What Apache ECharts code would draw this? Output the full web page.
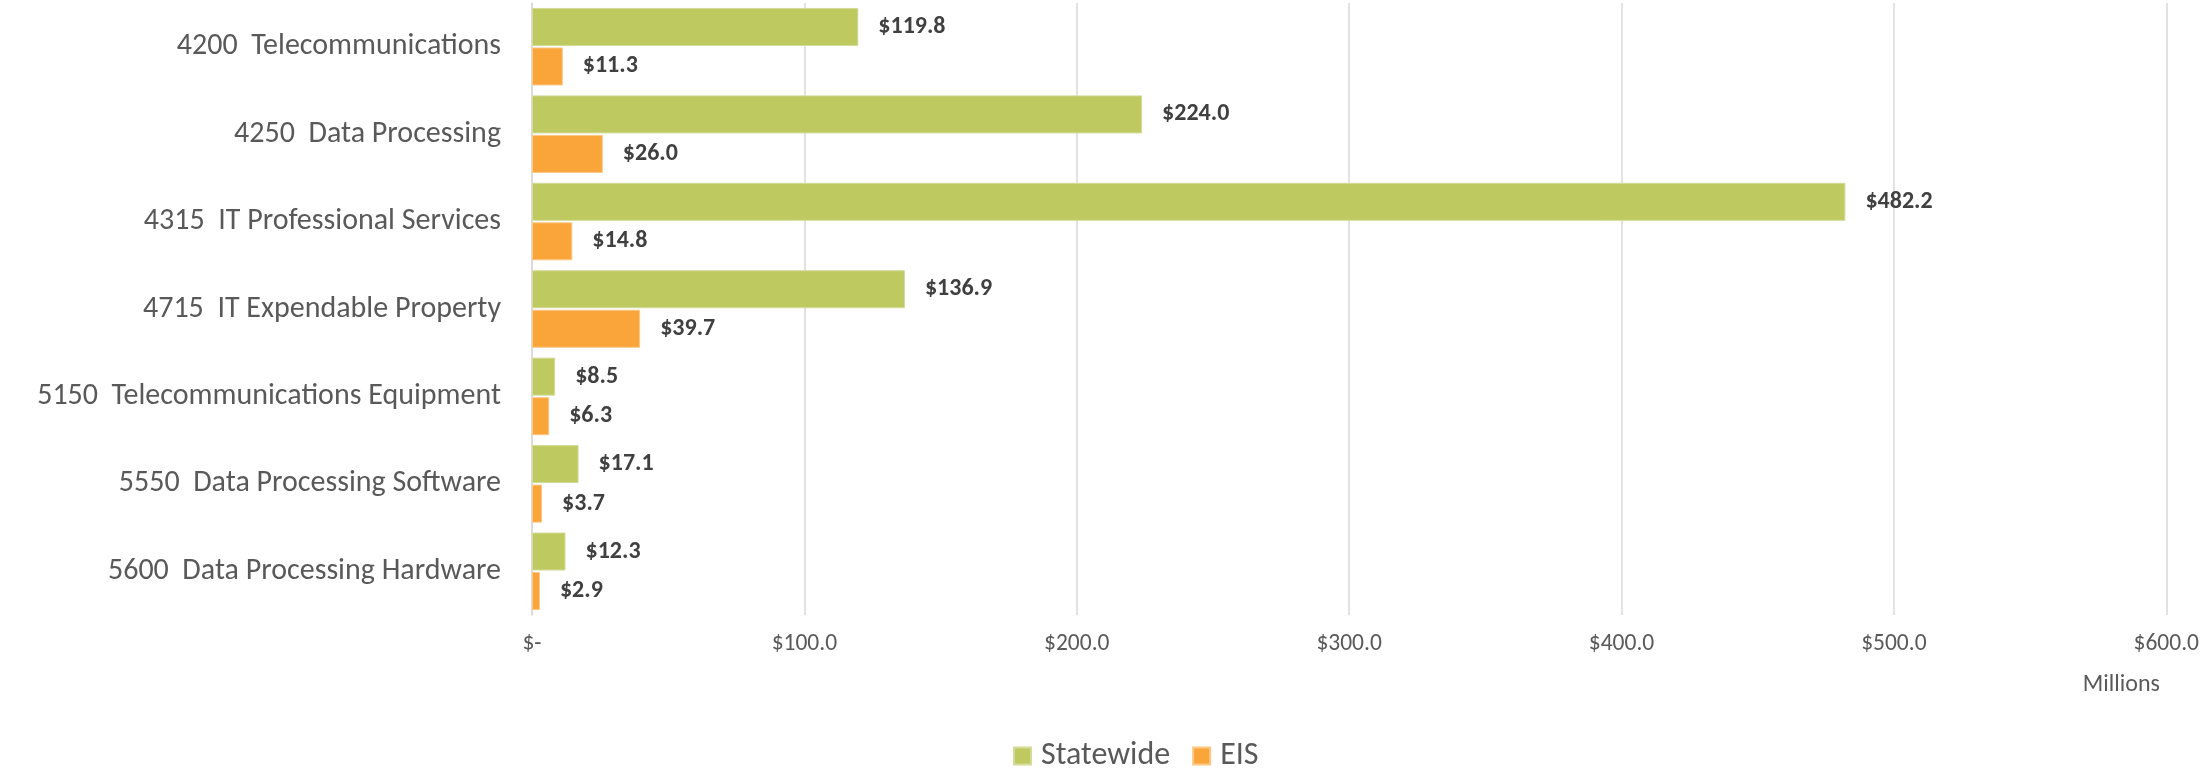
<!DOCTYPE html>
<html>
<head>
<meta charset="utf-8">
<script src="https://cdn.jsdelivr.net/npm/echarts@6/dist/echarts.min.js"></script>
<style>
  html, body { margin: 0; padding: 0; background: #ffffff; }
  #chart { width: 2202px; height: 769px; }
</style>
</head>
<body>
<div id="chart"></div>
<script>
// IT spending by object code, in millions of dollars
const categories = [
  '4200  Telecommunications',
  '4250  Data Processing',
  '4315  IT Professional Services',
  '4715  IT Expendable Property',
  '5150  Telecommunications Equipment',
  '5550  Data Processing Software',
  '5600  Data Processing Hardware'
];
const statewide = [119.8, 224.0, 482.2, 136.9, 8.5, 17.1, 12.3];
const eis = [11.3, 26.0, 14.8, 39.7, 6.3, 3.7, 2.9];
const axisTicks = [0, 100, 200, 300, 400, 500, 600];

const FONT = 'Carlito, Lato, sans-serif';
const money = v => (v === 0 ? '$-' : '$' + v.toFixed(1));

const valueLabel = {
  show: true,
  position: 'right',
  distance: 20,
  formatter: p => money(p.value),
  color: '#404040',
  fontFamily: FONT,
  fontWeight: 'bold',
  fontSize: 24
};

const chart = echarts.init(document.getElementById('chart'), null, { renderer: 'canvas' });
chart.setOption({
  animation: false,
  backgroundColor: '#ffffff',
  grid: { left: 532, right: 35, top: 3, height: 612, containLabel: false },
  title: {
    text: 'Millions',
    right: 42,
    top: 673,
    padding: 0,
    textStyle: { fontFamily: FONT, fontWeight: 'normal', fontSize: 24, color: '#595959' }
  },
  legend: {
    data: ['Statewide', 'EIS'],
    left: 1013,
    top: 740,
    padding: 0,
    itemWidth: 17,
    itemHeight: 17,
    itemGap: 22,
    icon: 'rect',
    textStyle: { fontFamily: FONT, fontSize: 32, color: '#595959', padding: [0, 0, 0, 5] }
  },
  xAxis: {
    type: 'value',
    min: axisTicks[0],
    max: axisTicks[axisTicks.length - 1],
    interval: axisTicks[1] - axisTicks[0],
    axisLine: { show: false },
    axisTick: { show: false },
    splitLine: { show: true, lineStyle: { color: '#d9d9d9', width: 1.5 } },
    axisLabel: {
      margin: 17,
      formatter: v => money(v),
      fontFamily: FONT,
      fontSize: 23.5,
      color: '#595959'
    }
  },
  yAxis: {
    type: 'category',
    data: categories,
    inverse: true,
    axisLine: { show: true, lineStyle: { color: '#d9d9d9', width: 1.5 } },
    axisTick: { show: false },
    splitLine: { show: false },
    axisLabel: {
      margin: 31,
      fontFamily: FONT,
      fontWeight: 300,
      fontSize: 30,
      color: '#595959'
    }
  },
  series: [
    {
      name: 'Statewide',
      type: 'bar',
      data: statewide,
      barWidth: 38,
      barGap: '4%',
      itemStyle: { color: '#BEC960', borderColor: '#D3DB98', borderWidth: 1 },
      label: valueLabel
    },
    {
      name: 'EIS',
      type: 'bar',
      data: eis,
      barWidth: 38,
      itemStyle: { color: '#FAA53A', borderColor: '#FBC784', borderWidth: 1 },
      label: valueLabel
    }
  ]
});
</script>
</body>
</html>
